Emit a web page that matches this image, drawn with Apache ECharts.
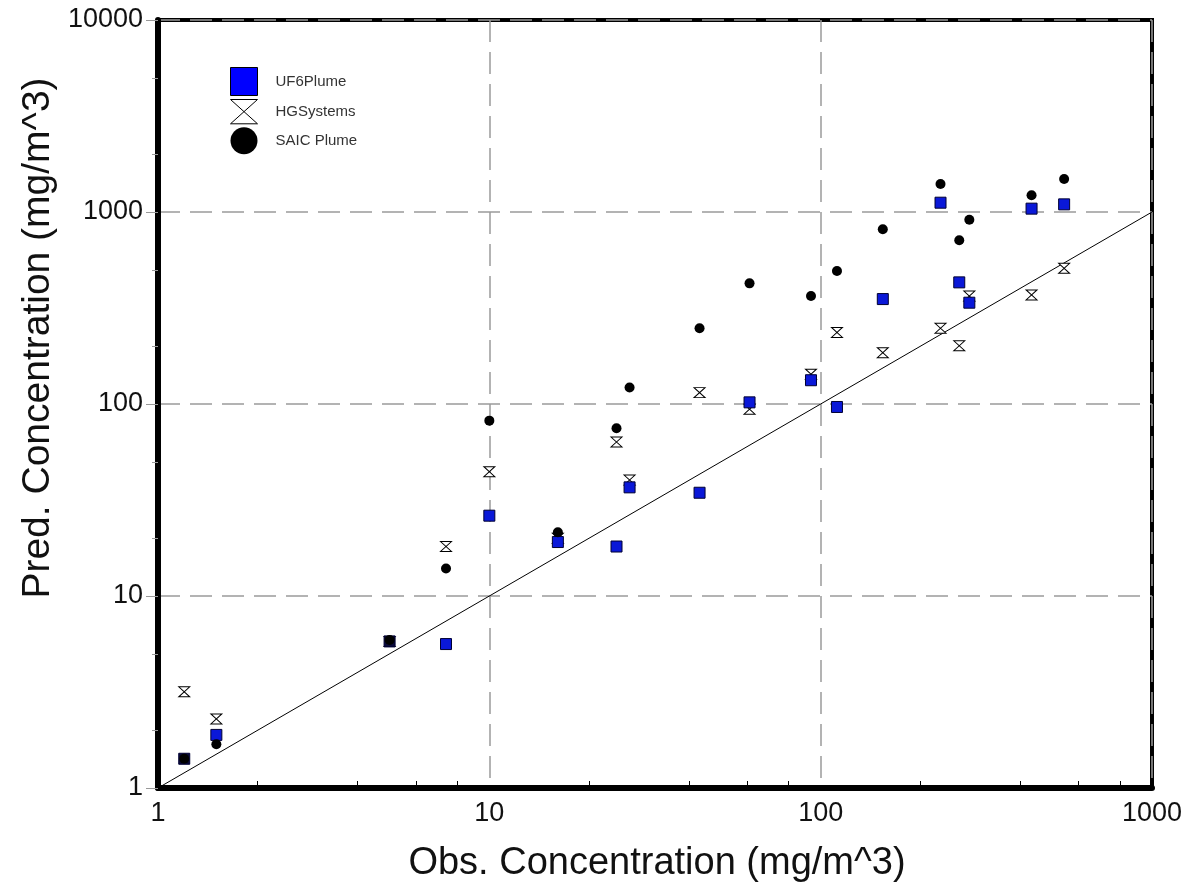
<!DOCTYPE html>
<html>
<head>
<meta charset="utf-8">
<script src="https://cdn.jsdelivr.net/npm/echarts@6/dist/echarts.min.js"></script>
<style>
  html, body { margin: 0; padding: 0; background: #fff; }
  #chart { width: 1192px; height: 890px; }
</style>
</head>
<body>
<div id="chart"></div>
<script>
// observed concentration (x) shared by the three models
var obsConc = [1.2, 1.5, 5.0, 7.4, 10, 16.1, 24.2, 26.5, 43.1, 61, 93.5, 112, 154, 230, 262, 281, 433, 543]
// predicted concentrations
var uf6Plume = [1.42, 1.89, 5.8, 5.62, 26.2, 19.1, 18.1, 36.8, 34.5, 102, 133, 96.5, 352, 1118, 430, 337, 1041, 1096]
var hgSystems = [3.17, 2.29, 5.8, 18.1, 44.4, 20, 63.4, 40.2, 114.6, 94, 143, 236, 185, 248, 201, 365, 370, 509]
var saicPlume = [1.42, 1.69, 5.9, 13.9, 81.9, 21.5, 74.7, 122, 248, 425, 365, 493, 813, 1400, 712, 912, 1222, 1485]
// 1:1 reference line
var oneToOne = [[1, 1], [1000, 1000]]
// minor tick positions
var xMinorTicks = [2, 4, 6, 8, 20, 40, 60, 80, 200, 400, 600, 800]
var yMinorTicks = [2, 5, 20, 50, 200, 500, 2000, 5000]
// squares that sit on a black dot look dark
var darkUf6 = [0, 2]

var hourglass = 'path://M0,0 L10,0 L0,9 L10,9 Z'
var font = 'Liberation Sans, Arial, sans-serif'

function pairs (ys) {
  return obsConc.map(function (x, i) { return [x, ys[i]] })
}

var uf6Data = pairs(uf6Plume).map(function (p, i) {
  if (darkUf6.indexOf(i) >= 0) {
    return { value: p, itemStyle: { color: '#0a0a3a' } }
  }
  return p
})

var dashed = { show: true, lineStyle: { color: '#9a9a9a', width: 1.5, type: [22, 10] } }
var plain = function (v) { return String(v) }

var option = {
  backgroundColor: '#fff',
  animation: false,
  grid: {
    left: 158, right: 40, top: 20, bottom: 102,
    show: true, borderColor: '#000', borderWidth: 4, backgroundColor: 'transparent'
  },
  legend: {
    orient: 'vertical',
    left: 225,
    top: 62,
    itemWidth: 27,
    itemHeight: 28,
    itemGap: 3,
    textStyle: { fontFamily: font, fontSize: 15, color: '#333', padding: [0, 0, 0, 13] },
    data: [
      { name: 'UF6Plume', icon: 'rect', itemStyle: { color: '#0000ff', borderColor: '#000', borderWidth: 1 } },
      { name: 'HGSystems', icon: hourglass, itemStyle: { color: '#fff', borderColor: '#000', borderWidth: 1 } },
      { name: 'SAIC Plume', icon: 'circle', itemStyle: { color: '#000' } }
    ]
  },
  xAxis: [
    {
      type: 'log', min: 1, max: 1000, logBase: 10,
      axisLine: { lineStyle: { color: '#000', width: 6 } },
      axisTick: { show: false },
      axisLabel: { margin: 12, fontFamily: font, fontSize: 27, color: '#111', formatter: plain },
      splitLine: dashed
    },
    {
      type: 'log', min: 1, max: 1000, position: 'bottom',
      axisLine: { show: false },
      axisLabel: { show: false },
      splitLine: { show: false },
      axisTick: { show: true, inside: true, length: 7, customValues: xMinorTicks, lineStyle: { color: '#000', width: 1 } }
    }
  ],
  yAxis: [
    {
      type: 'log', min: 1, max: 10000, logBase: 10,
      axisLine: { lineStyle: { color: '#000', width: 6 } },
      axisTick: { show: true, length: 12, lineStyle: { color: '#999', width: 1 } },
      axisLabel: { margin: 15, fontFamily: font, fontSize: 27, color: '#111', formatter: plain },
      splitLine: dashed
    },
    {
      type: 'log', min: 1, max: 10000, position: 'left',
      axisLine: { show: false },
      axisLabel: { show: false },
      splitLine: { show: false },
      axisTick: { show: true, length: 6, customValues: yMinorTicks, lineStyle: { color: '#999', width: 1 } }
    }
  ],
  graphic: [
    {
      type: 'text', x: 657, y: 864,
      style: { text: 'Obs. Concentration (mg/m^3)', font: '38px ' + font, fill: '#111', align: 'center', verticalAlign: 'middle' }
    },
    {
      type: 'text', x: 38, y: 338, rotation: Math.PI / 2,
      style: { text: 'Pred. Concentration (mg/m^3)', font: '39px ' + font, fill: '#111', align: 'center', verticalAlign: 'middle' }
    }
  ],
  series: [
    {
      name: '1:1', type: 'line', data: oneToOne, symbol: 'none',
      lineStyle: { color: '#000', width: 1 }, silent: true, z: 1
    },
    {
      name: 'HGSystems', type: 'scatter', data: pairs(hgSystems),
      symbol: hourglass, symbolSize: [11, 10],
      itemStyle: { color: '#fff', borderColor: '#000', borderWidth: 1, opacity: 1 }, z: 2
    },
    {
      name: 'UF6Plume', type: 'scatter', data: uf6Data,
      symbol: 'rect', symbolSize: 11,
      itemStyle: { color: '#0a18d8', borderColor: '#000033', borderWidth: 1, opacity: 1 }, z: 3
    },
    {
      name: 'SAIC Plume', type: 'scatter', data: pairs(saicPlume),
      symbol: 'circle', symbolSize: 10,
      itemStyle: { color: '#000', opacity: 1 }, z: 4
    }
  ]
}

var myChart = echarts.init(document.getElementById('chart'))
myChart.setOption(option)
</script>
</body>
</html>
